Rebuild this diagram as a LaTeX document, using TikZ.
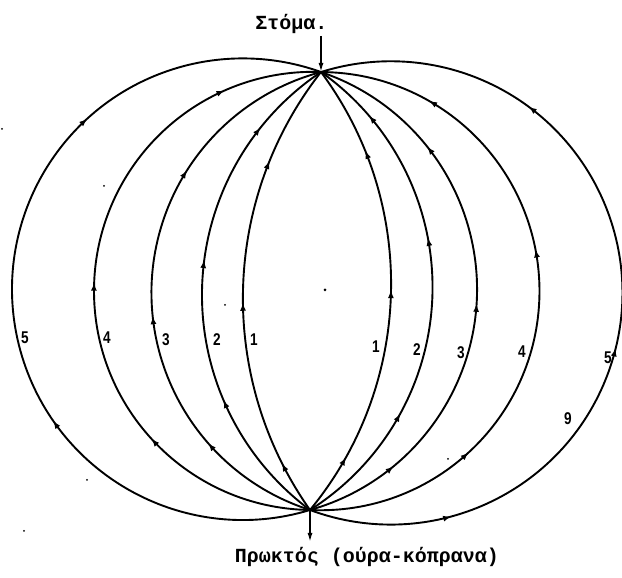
\documentclass[tikz,border=0pt]{standalone}
\usepackage{fontspec}
\setmainfont{Liberation Serif}
\newfontfamily\monofam{Liberation Mono}
\newfontfamily\sansfam{Liberation Sans}
\usetikzlibrary{arrows.meta,decorations.markings}
\tikzset{
  curve/.style={line width=1.9pt},
  tri/.tip={Latex[length=8pt,width=6pt]},
  am3/.style n args={3}{postaction={decorate,decoration={markings,
      mark=at position #1 with {\arrow{tri}},
      mark=at position #2 with {\arrow{tri}},
      mark=at position #3 with {\arrow{tri}}}}},
  am2/.style 2 args={postaction={decorate,decoration={markings,
      mark=at position #1 with {\arrow{tri}},
      mark=at position #2 with {\arrow{tri}}}}},
  num/.style={font=\sansfam\bfseries\fontsize{17}{17}\selectfont, inner sep=0pt},
  caption/.style={font=\monofam\bfseries\fontsize{20}{20}\selectfont, inner sep=0pt, anchor=base},
  ptr/.style={line width=1.6pt, -{Latex[length=9pt,width=5pt]}},
}
\newcommand\dg[1]{\scalebox{0.8}[1]{#1}}
\begin{document}
\begin{tikzpicture}[x=1pt,y=1pt]
\useasboundingbox (0,0) rectangle (622,578);
% junction points
\coordinate (T) at (321,506);
\coordinate (B) at (310,68);
\coordinate (Tin) at (321,542);
\coordinate (Bout) at (310,36);
% left curves
\draw[curve, am3={0.116}{0.471}{0.780}] (B) arc[start angle=215.19, end angle=141.93, radius=367.2pt];
\draw[curve, am3={0.276}{0.555}{0.839}] (B) arc[start angle=233.33, end angle=123.79, radius=268.2pt];
\draw[curve, am3={0.210}{0.450}{0.710}] (B) arc[start angle=252.20, end angle=104.92, radius=228.3pt];
\draw[curve, am3={0.258}{0.504}{0.857}] (B) arc[start angle=269.19, end angle=87.93, radius=219.1pt];
\draw[curve, am2={0.333}{0.713}] (B) arc[start angle=286.92, end angle=70.20, radius=230.8pt];
% right curves
\draw[curve, am3={0.135}{0.506}{0.808}] (B) arc[start angle=-39.47, end angle=36.59, radius=355.6pt];
\draw[curve, am3={0.258}{0.609}{0.874}] (B) arc[start angle=-57.65, end angle=54.77, radius=263.6pt];
\draw[curve, am3={0.163}{0.485}{0.774}] (B) arc[start angle=-74.24, end angle=71.36, radius=229.3pt];
\draw[curve, am3={0.248}{0.568}{0.838}] (B) arc[start angle=-92.72, end angle=89.84, radius=219.1pt];
\draw[curve, am3={0.163}{0.443}{0.752}] (B) arc[start angle=-110.41, end angle=107.53, radius=231.65pt];
% in / out pointers
\draw[ptr] (Tin) -- (T);
\draw[ptr] (B) -- (Bout);
% captions
\node[caption] (mouth) at (291.5,548) {Στόμα.};
\node[caption] (anus) at (367,15) {Πρωκτός (ούρα-κόπρανα)};
% numbers
\node[num] (l5) at (25,240) {\dg{5}};
\node[num] (l4) at (107,240) {\dg{4}};
\node[num] (l3) at (166,238) {\dg{3}};
\node[num] (l2) at (217,238) {\dg{2}};
\node[num] (l1) at (254,238) {\dg{1}};
\node[num] (r1) at (376,231) {\dg{1}};
\node[num] (r2) at (417,228) {\dg{2}};
\node[num] (r3) at (461,225) {\dg{3}};
\node[num] (r4) at (522,226) {\dg{4}};
\node[num] (r5) at (608,220) {\dg{5}};
\node[num] (n9) at (568,159) {\dg{9}};
% specks
\fill (325,288) circle (1.5pt);
\fill (225,273) circle (1pt);
\fill (104,392) circle (1pt);
\fill (2,449) circle (1pt);
\fill (448,119) circle (1pt);
\fill (87,98) circle (1pt);
\fill (24,47) circle (1pt);
\end{tikzpicture}
\end{document}
